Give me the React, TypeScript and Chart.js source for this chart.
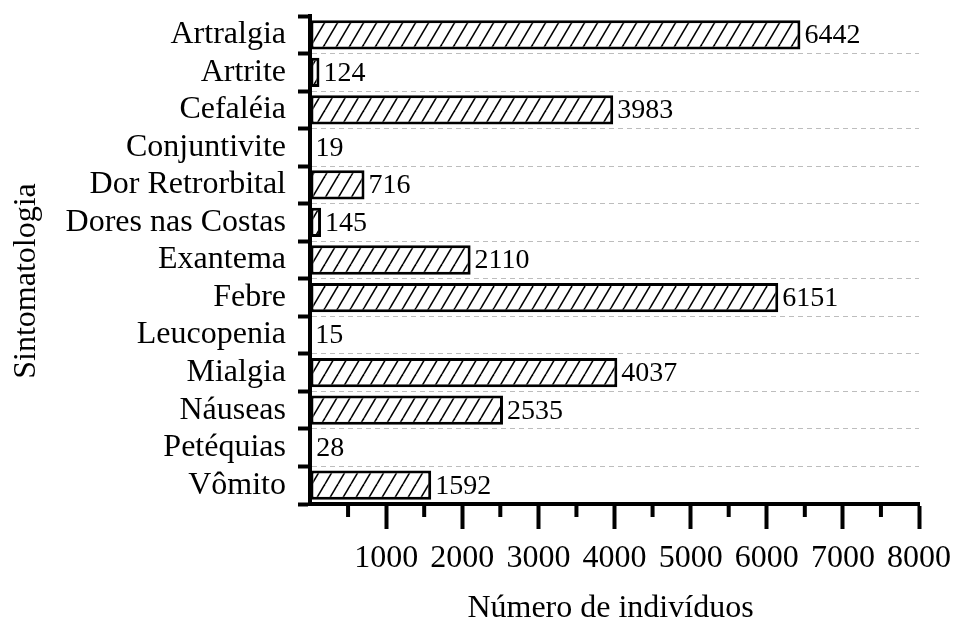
import React, { useEffect, useRef } from "react";
import { Chart, registerables } from "chart.js";

Chart.register(...registerables);

const categories = [
  "Artralgia",
  "Artrite",
  "Cefaléia",
  "Conjuntivite",
  "Dor Retrorbital",
  "Dores nas Costas",
  "Exantema",
  "Febre",
  "Leucopenia",
  "Mialgia",
  "Náuseas",
  "Petéquias",
  "Vômito",
];
const values = [6442, 124, 3983, 19, 716, 145, 2110, 6151, 15, 4037, 2535, 28, 1592];
const xMin = 0;
const xMax = 8000;
const xStep = 1000;
const minorTickValues = [500, 1500, 2500, 3500, 4500, 5500, 6500, 7500];
const xTitle = "Número de indivíduos";
const yTitle = "Sintomatologia";

const FONT = '"Liberation Serif", "Times New Roman", serif';

function makeHatch(ctx: CanvasRenderingContext2D): CanvasPattern | string {
  const c = document.createElement("canvas");
  const w = 13;
  const h = 22;
  c.width = w;
  c.height = h;
  const g = c.getContext("2d");
  if (!g) return "#fff";
  g.fillStyle = "#fff";
  g.fillRect(0, 0, w, h);
  g.strokeStyle = "#000";
  g.lineWidth = 1.6;
  for (const dx of [-w, 0, w]) {
    g.beginPath();
    g.moveTo(dx, h);
    g.lineTo(dx + w, 0);
    g.stroke();
  }
  return ctx.createPattern(c, "repeat") || "#fff";
}

const extrasPlugin = {
  id: "extras",
  afterDraw(chart: any) {
    const { ctx, chartArea, scales } = chart;
    const x = scales.x;
    ctx.save();
    // minor ticks on x axis
    ctx.strokeStyle = "#000";
    ctx.lineWidth = 4;
    for (const v of minorTickValues) {
      const px = x.getPixelForValue(v);
      ctx.beginPath();
      ctx.moveTo(px, chartArea.bottom);
      ctx.lineTo(px, chartArea.bottom + 13);
      ctx.stroke();
    }
    // value labels
    const meta = chart.getDatasetMeta(0);
    ctx.fillStyle = "#000";
    ctx.font = `28px ${FONT}`;
    ctx.textAlign = "left";
    ctx.textBaseline = "middle";
    meta.data.forEach((bar: any, i: number) => {
      ctx.fillText(String(values[i]), bar.x + 4, bar.y + 1);
    });
    // axis titles
    ctx.font = `32px ${FONT}`;
    ctx.textAlign = "center";
    ctx.textBaseline = "alphabetic";
    ctx.fillText(xTitle, (chartArea.left + chartArea.right) / 2 - 4, 617);
    ctx.translate(35, 281);
    ctx.rotate(-Math.PI / 2);
    ctx.fillText(yTitle, 0, 0);
    ctx.restore();
  },
};

export default function App() {
  const ref = useRef<HTMLCanvasElement | null>(null);

  useEffect(() => {
    document.body.style.margin = "0";
    const canvas = ref.current;
    if (!canvas) return;
    const ctx = canvas.getContext("2d");
    if (!ctx) return;
    const hatch = makeHatch(ctx);

    const chart = new Chart(ctx, {
      type: "bar",
      data: {
        labels: categories,
        datasets: [
          {
            data: values,
            backgroundColor: hatch as any,
            borderColor: "#000",
            borderWidth: 3,
            borderSkipped: false,
            barPercentage: 0.78,
            categoryPercentage: 1,
          },
        ],
      },
      options: {
        indexAxis: "y",
        responsive: false,
        animation: false,
        events: [],
        layout: { padding: { top: 16, right: 36, left: 0, bottom: 0 } },
        plugins: {
          legend: { display: false },
          tooltip: { enabled: false },
        },
        scales: {
          x: {
            type: "linear",
            min: xMin,
            max: xMax,
            position: "bottom",
            ticks: {
              stepSize: xStep,
              autoSkip: false,
              maxRotation: 0,
              padding: 10,
              color: "#000",
              font: { family: FONT, size: 32 },
              callback: (v: any) => (Number(v) === 0 ? "" : String(v)),
            },
            grid: {
              display: true,
              drawOnChartArea: false,
              drawTicks: true,
              tickLength: 25,
              tickWidth: 4,
              tickColor: (c: any) => (c.tick && c.tick.value === 0 ? "rgba(0,0,0,0)" : "#000"),
            },
            border: { display: true, color: "#000", width: 4 },
            afterFit: (s: any) => {
              s.height = 117;
              s.paddingLeft = 0;
              s.paddingRight = 0;
            },
          },
          y: {
            type: "category",
            position: "left",
            ticks: {
              padding: 12,
              color: "#000",
              autoSkip: false,
              font: { family: FONT, size: 32 },
            },
            grid: {
              display: true,
              offset: true,
              drawOnChartArea: true,
              drawTicks: true,
              tickLength: 12,
              tickWidth: 4,
              tickColor: "#000",
              lineWidth: 1,
              color: (c: any) => (c.index === 0 ? "rgba(0,0,0,0)" : "#bdbdbd"),
            },
            border: { display: true, color: "#000", width: 4, dash: [5, 4] },
            afterFit: (s: any) => {
              s.width = 310;
              s.paddingTop = 0;
              s.paddingBottom = 0;
            },
          },
        },
      },
      plugins: [extrasPlugin],
    } as any);

    return () => chart.destroy();
  }, []);

  return (
    <div style={{ width: 955, height: 621 }}>
      <canvas ref={ref} width={955} height={621} style={{ display: "block" }} />
    </div>
  );
}
